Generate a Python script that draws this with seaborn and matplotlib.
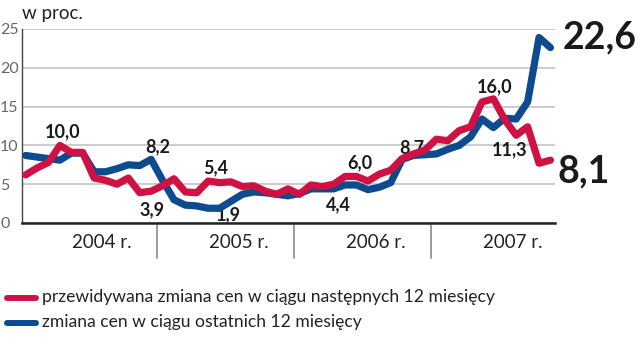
import matplotlib
matplotlib.use("Agg")
import matplotlib.pyplot as plt
import seaborn as sns
import pandas as pd
import numpy as np
from matplotlib.lines import Line2D
import matplotlib.transforms as mtransforms

# ---------------- data ----------------
years = ["2004 r.", "2005 r.", "2006 r.", "2007 r."]
series_names = ["przewidywana zmiana cen w ciągu następnych 12 miesięcy",
                "zmiana cen w ciągu ostatnich 12 miesięcy"]
# monthly values, Jan 2004 - Nov 2007
expected = [6.2, 7.1, 7.8, 10.0, 9.1, 9.1, 5.8, 5.5, 5.0, 5.8, 3.9, 4.1,
            4.8, 5.7, 4.0, 3.9, 5.4, 5.2, 5.3, 4.7, 4.8, 4.1, 3.7, 4.4,
            3.7, 4.9, 4.7, 5.0, 6.0, 6.0, 5.4, 6.3, 6.8, 8.3, 8.9, 9.4,
            10.8, 10.6, 11.9, 12.4, 15.6, 16.0, 13.3, 11.3, 12.4, 7.7, 8.1]
actual = [8.7, 8.5, 8.3, 8.1, 9.0, 9.0, 6.6, 6.6, 7.0, 7.5, 7.4, 8.2,
          5.5, 3.0, 2.3, 2.2, 1.9, 1.9, 2.8, 3.7, 4.0, 3.9, 3.7, 3.5,
          3.8, 4.4, 4.4, 4.4, 4.9, 4.9, 4.3, 4.6, 5.2, 8.2, 8.7, 8.8,
          8.9, 9.5, 10.0, 11.1, 13.4, 12.3, 13.5, 13.4, 15.6, 23.9, 22.6]
yticks = [0, 5, 10, 15, 20, 25]
ytick_labels = ["0", "5", "10", "15", "20", "25"]
# (series index, month index, text, dx px, dy px, big)
point_labels = [
    (0, 3, "10,0", 3, 8.4, False),
    (1, 11, "8,2", 7, 7.4, False),
    (0, 10, "3,9", 12, -22.3, False),
    (0, 16, "5,4", 7, 8.1, False),
    (1, 16, "1,9", 20, -11.7, False),
    (0, 28, "6,0", 15, 8.4, False),
    (1, 27, "4,4", 5, -21, False),
    (1, 34, "8,7", -2, 2.5, False),
    (0, 41, "16,0", 1, 6.8, False),
    (0, 43, "11,3", -7, -19.7, False),
    (1, 46, "22,6", 12, -0.4, True),
    (0, 46, "8,1", 7, -22, True),
]

RED = "#cf1243"
BLUE = "#0d4a8e"

sns.set_theme(style="white")
plt.rcParams["font.family"] = ["Lato", "DejaVu Sans"]

W, H = 640, 337
PT = 72 / 100.0  # points per pixel at dpi 100
fig = plt.figure(figsize=(W / 100, H / 100), dpi=100)
ax = fig.add_axes([22 / W, 1 - 223 / H, (555 - 22) / W, (223 - 29) / H])

n = len(actual)
months = np.arange(n)
df = pd.DataFrame({
    "m": np.concatenate([months, months]),
    "v": actual + expected,
    "s": [series_names[1]] * n + [series_names[0]] * n,
})
sns.lineplot(data=df, x="m", y="v", hue="s",
             hue_order=[series_names[1], series_names[0]],
             palette=[BLUE, RED], linewidth=5.2, legend=False, ax=ax,
             solid_joinstyle="round", solid_capstyle="round", zorder=3)

ax.set_xlim(-0.32, 46.4)
ax.set_ylim(0, 25)
ax.set_xlabel("")
ax.set_ylabel("")
ax.set_xticks([])
ax.set_yticks(yticks)
ax.set_yticklabels(ytick_labels)
ax.tick_params(axis="y", length=0, pad=15.8, labelsize=11.5, labelcolor="#666666")
for t in ax.get_yticklabels():
    t.set_horizontalalignment("left")
ax.yaxis.grid(True, color="#c4c4c4", linewidth=1.2)
ax.set_axisbelow(True)
for s in ["top", "right"]:
    ax.spines[s].set_visible(False)
ax.spines["left"].set_color("#444444")
ax.spines["left"].set_linewidth(1.0)
ax.spines["bottom"].set_color("#222222")
ax.spines["bottom"].set_linewidth(1.8)

# year labels & separators
trans = mtransforms.blended_transform_factory(ax.transData, ax.transAxes)
for k, yr in enumerate(years):
    ax.annotate(yr, xy=(5.5 + 12 * k + 1.2, 0), xycoords=trans,
                xytext=(0, -19 * PT), textcoords="offset points",
                ha="center", va="center", fontsize=13.5, color="#222222")
for k in range(1, len(years)):
    ax.plot([12 * k - 0.5, 12 * k - 0.5], [-0.25, -4.5], color="#8a8a8a",
            linewidth=1.2, clip_on=False)

# point labels
series_vals = [expected, actual]
for si, mi, txt, dx, dy, big in point_labels:
    ax.annotate(txt, xy=(mi, series_vals[si][mi]),
                xytext=(dx * PT, dy * PT), textcoords="offset points",
                ha="left" if big else "center", va="baseline",
                fontsize=27 if big else 13, fontweight="bold",
                color="#1a1a1a", zorder=2 if not big else 5)

fig.text(22 / W, 1 - 14 / H, "w proc.", fontsize=13.5, ha="left", va="center",
         color="#222222")

# legend
for yy, col, name in [(298, RED, series_names[0]), (323, BLUE, series_names[1])]:
    fig.add_artist(Line2D([7 / W, 36 / W], [1 - yy / H, 1 - yy / H],
                          transform=fig.transFigure, color=col, linewidth=4.3,
                          solid_capstyle="round"))
    fig.text(42 / W, 1 - (yy - 1) / H, name, fontsize=12.6, ha="left",
             va="center", color="#222222")

fig.savefig("out.png", dpi=100)
